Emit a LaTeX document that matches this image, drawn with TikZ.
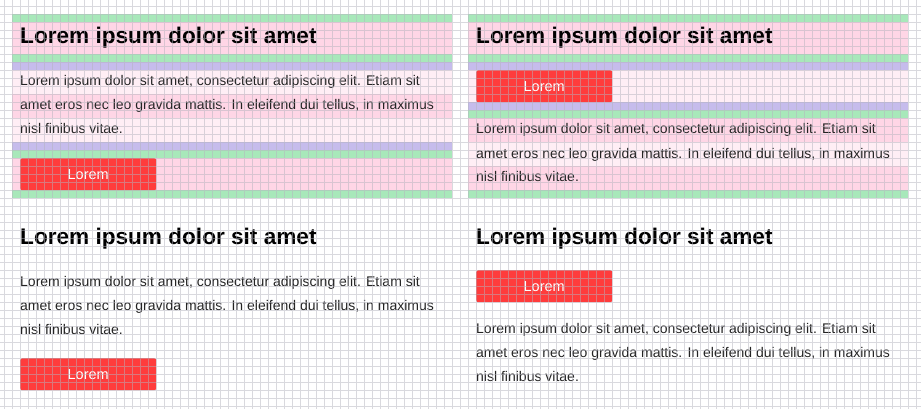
\documentclass[tikz,border=0pt]{standalone}
\usepackage{fontspec}
\setmainfont{Liberation Sans}
\definecolor{bandgreen}{RGB}{168,232,186}
\definecolor{bandpink}{RGB}{255,214,230}
\definecolor{bandlight}{RGB}{255,238,245}
\definecolor{bandpurple}{RGB}{198,188,236}
\definecolor{btnred}{RGB}{255,60,60}
\definecolor{gridgray}{RGB}{180,180,190}
\definecolor{txtgray}{RGB}{35,35,35}
\tikzset{
  headtext/.style={anchor=base west, inner sep=0pt, font=\fontsize{22.6}{26}\selectfont\bfseries, text=black},
  bodytext/.style={anchor=base west, inner sep=0pt, font=\fontsize{14}{24}\selectfont, text=txtgray},
  btnbox/.style={anchor=north west, fill=btnred, rounded corners=2pt, minimum width=136pt, minimum height=32pt, inner sep=0pt, text=white, font=\fontsize{14.5}{16}\selectfont},
  gridline/.style={draw=gridgray, line width=0.9pt, opacity=0.5}
}
\begin{document}
\begin{tikzpicture}[x=1pt,y=-1pt]
\useasboundingbox (0,0) rectangle (921,409);
\fill[white] (0,0) rectangle (921,409);
% ---- top left panel bands
\fill[bandgreen] (12,14) rectangle (452,22);
\fill[bandpink] (12,22) rectangle (452,54);
\fill[bandgreen] (12,54) rectangle (452,62);
\fill[bandpurple] (12,62) rectangle (452,70);
\fill[bandlight] (12,70) rectangle (452,94);
\fill[bandpink] (12,94) rectangle (452,118);
\fill[bandlight] (12,118) rectangle (452,142);
\fill[bandpurple] (12,142) rectangle (452,150);
\fill[bandgreen] (12,150) rectangle (452,158);
\fill[bandpink] (12,158) rectangle (452,190);
\fill[bandgreen] (12,190) rectangle (452,198);
% ---- top right panel bands
\fill[bandgreen] (468,14) rectangle (908,22);
\fill[bandpink] (468,22) rectangle (908,54);
\fill[bandgreen] (468,54) rectangle (908,62);
\fill[bandpurple] (468,62) rectangle (908,70);
\fill[bandlight] (468,70) rectangle (908,102);
\fill[bandpurple] (468,102) rectangle (908,110);
\fill[bandgreen] (468,110) rectangle (908,118);
\fill[bandpink] (468,118) rectangle (908,142);
\fill[bandlight] (468,142) rectangle (908,166);
\fill[bandpink] (468,166) rectangle (908,190);
\fill[bandgreen] (468,190) rectangle (908,198);
% ---- top left content
\node[headtext] (h1) at (20,44) {Lorem ipsum dolor sit amet};
\node[bodytext] (p1a) at (20,86) {Lorem ipsum dolor sit amet, consectetur adipiscing elit. Etiam sit};
\node[bodytext] (p1b) at (20,110) {amet eros nec leo gravida mattis. In eleifend dui tellus, in maximus};
\node[bodytext] (p1c) at (20,134) {nisl finibus vitae.};
\node[btnbox] (b1) at (20,158) {Lorem};
% ---- top right content
\node[headtext] (h2) at (476,44) {Lorem ipsum dolor sit amet};
\node[btnbox] (b2) at (476,70) {Lorem};
\node[bodytext] (p2a) at (476,134) {Lorem ipsum dolor sit amet, consectetur adipiscing elit. Etiam sit};
\node[bodytext] (p2b) at (476,158) {amet eros nec leo gravida mattis. In eleifend dui tellus, in maximus};
\node[bodytext] (p2c) at (476,182) {nisl finibus vitae.};
% ---- bottom left content
\node[headtext] (h3) at (20,244) {Lorem ipsum dolor sit amet};
\node[bodytext] (p3a) at (20,286) {Lorem ipsum dolor sit amet, consectetur adipiscing elit. Etiam sit};
\node[bodytext] (p3b) at (20,310) {amet eros nec leo gravida mattis. In eleifend dui tellus, in maximus};
\node[bodytext] (p3c) at (20,334) {nisl finibus vitae.};
\node[btnbox] (b3) at (20,358) {Lorem};
% ---- bottom right content
\node[headtext] (h4) at (476,244) {Lorem ipsum dolor sit amet};
\node[btnbox] (b4) at (476,270) {Lorem};
\node[bodytext] (p4a) at (476,333) {Lorem ipsum dolor sit amet, consectetur adipiscing elit. Etiam sit};
\node[bodytext] (p4b) at (476,357) {amet eros nec leo gravida mattis. In eleifend dui tellus, in maximus};
\node[bodytext] (p4c) at (476,381) {nisl finibus vitae.};
% ---- grid overlay
\draw[gridline]
  foreach \gx in {4,12,...,916} {(\gx,0) -- (\gx,409)}
  foreach \gy in {6,14,...,406} {(0,\gy) -- (921,\gy)};
\end{tikzpicture}
\end{document}
